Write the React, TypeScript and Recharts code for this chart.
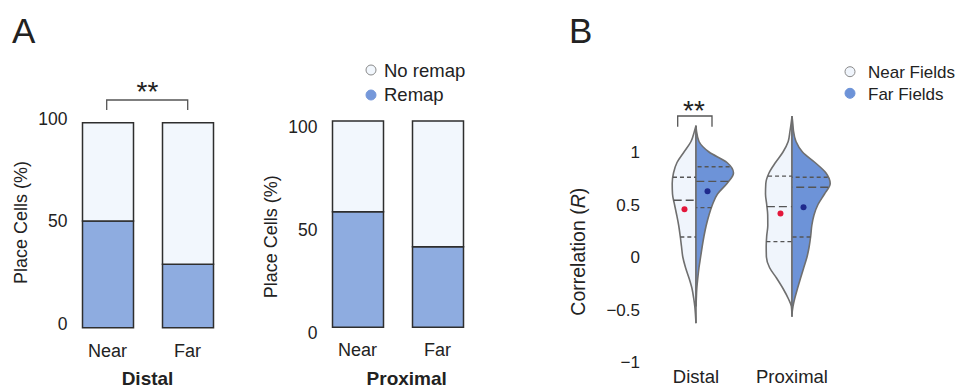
import { BarChart, Bar, XAxis, YAxis, ComposedChart, Area, ReferenceLine, ReferenceDot, Legend } from 'recharts';

const FONT = '"Liberation Sans", Arial, Helvetica, sans-serif';
const INK = '#222';
const REMAP = '#8eace0';
const NO_REMAP = '#f2f7fd';
const BAR_EDGE = '#2e2e2e';
const NEAR_FILL = '#f0f5fc';
const FAR_FILL = '#6d93d8';
const OUTLINE = '#6f6f6f';
const NEAR_DOT = '#e3173b';
const FAR_DOT = '#1f2a8c';

// ---- panel A: remapping share (%)
const conditions = ['Near', 'Far'];
const distalRemap = [52, 31];
const distalNoRemap = [48, 69];
const proximalRemap = [56, 39];
const proximalNoRemap = [44, 61];
const percentTicks = [0, 50, 100];
const remapLegend = ['No remap', 'Remap'];

// ---- panel B: split violins of correlation R
const groups = ['Distal', 'Proximal'];
const fieldLegend = ['Near Fields', 'Far Fields'];
const rTicks = [-1, -0.5, 0, 0.5, 1];
const rGrid = [1.34, 1.3, 1.25, 1.2, 1.1, 1.0, 0.9, 0.8, 0.7, 0.6, 0.5, 0.4, 0.3, 0.2, 0.1, 0, -0.1, -0.2, -0.3, -0.4, -0.47, -0.54, -0.57, -0.63];
// density (half width)
const distalNear = [null, null, 0, 1.5, 5, 12, 19, 22.5, 23.8, 23.5, 21.5, 19.3, 17.3, 15.8, 14.5, 13.2, 10.5, 7, 4, 2.2, 1.2, 0.6, 0.4, 0];
const distalFar = [null, null, 0, 0.5, 3, 13, 31, 37.5, 31, 21.5, 16.5, 13, 10.2, 8, 6.2, 4.6, 3, 1.8, 0.8, 0.3, 0, null, null, null];
const proximalNear = [0, 0.5, 1.2, 2, 3.8, 9, 16.5, 23, 26.2, 26.5, 25.3, 24.3, 24.2, 25.3, 25.8, 25.6, 22.5, 15.5, 9, 3.5, 0.6, 0.1, 0, null];
const proximalFar = [0, 0.5, 1, 1.5, 4, 10.5, 23, 34, 38.2, 32.5, 26, 22, 19.8, 18.7, 17.2, 15, 11.8, 8.6, 5.5, 2.6, 1.0, 0, null, null];
// [Q1, median, Q3]
const distalNearQ = [0.19, 0.54, 0.76];
const distalFarQ = [0.47, 0.72, 0.86];
const proximalNearQ = [0.146, 0.48, 0.77];
const proximalFarQ = [0.19, 0.665, 0.76];
const distalMeans = [0.454, 0.626];
const proximalMeans = [0.415, 0.473];

const DENSITY_TO_X = 1 / 96;
const DOT_OFFSET = 0.12;

const distalBars = conditions.map((name, i) => ({ name, remap: distalRemap[i], noRemap: distalNoRemap[i] }));
const proximalBars = conditions.map((name, i) => ({ name, remap: proximalRemap[i], noRemap: proximalNoRemap[i] }));

const halves = [
  { key: 'dNear', pos: 1, side: -1, widths: distalNear, q: distalNearQ, mean: distalMeans[0] },
  { key: 'dFar', pos: 1, side: 1, widths: distalFar, q: distalFarQ, mean: distalMeans[1] },
  { key: 'pNear', pos: 2, side: -1, widths: proximalNear, q: proximalNearQ, mean: proximalMeans[0] },
  { key: 'pFar', pos: 2, side: 1, widths: proximalFar, q: proximalFarQ, mean: proximalMeans[1] },
];

const span = (pos: number, side: number, w: number | null) => {
  if (w == null) return [null, null];
  const edge = pos + side * w * DENSITY_TO_X;
  return side < 0 ? [edge, pos] : [pos, edge];
};

const violinData = rGrid.map((r, i) => {
  const row: any = { r };
  halves.forEach((h) => (row[h.key] = span(h.pos, h.side, h.widths[i])));
  return row;
});

// half width at a given R, for the quartile dashes
const widthAt = (widths: (number | null)[], q: number) => {
  for (let i = 0; i < rGrid.length - 1; i++) {
    const a = widths[i];
    const b = widths[i + 1];
    if (a == null || b == null) continue;
    if (rGrid[i] >= q && q >= rGrid[i + 1]) {
      const t = (rGrid[i] - q) / (rGrid[i] - rGrid[i + 1]);
      return a + (b - a) * t;
    }
  }
  return 0;
};

const fmtR = (v: number) => (v < 0 ? '\u2212' + Math.abs(v) : String(v));

function PercentTick({ x, y, payload, shift }: any) {
  return (
    <text x={x} y={y + shift} dy="0.355em" textAnchor="end" fontSize={17.5} fill={INK} fontFamily={FONT}>
      {payload.value}
    </text>
  );
}

function LegendDots({ labels, fills, cx, rows, textX, baselines, fontSize, width, height }: any) {
  return (
    <svg width={width} height={height} style={{ display: 'block' }}>
      {labels.map((l: string, i: number) => (
        <g key={l}>
          <circle cx={cx} cy={rows[i]} r={5} fill={fills[i]} stroke={i === 0 ? '#8a8a8a' : fills[i]} strokeWidth={1} />
          <text x={textX} y={baselines[i]} fontSize={fontSize} fill={INK} fontFamily={FONT}>
            {l}
          </text>
        </g>
      ))}
    </svg>
  );
}

function StackedPanel({ data, top, xHeight, shift, legend }: any) {
  return (
    <BarChart width={250} height={389} data={data} margin={{ top, right: 22.5, left: 0, bottom: 0 }}>
      <XAxis
        dataKey="name"
        axisLine={false}
        tickLine={false}
        tickSize={0}
        tickMargin={16.4}
        height={xHeight}
        interval={0}
        tick={{ fontSize: 18, fill: INK, fontFamily: FONT }}
      />
      <YAxis
        type="number"
        domain={[0, 100]}
        ticks={percentTicks}
        interval={0}
        axisLine={false}
        tickLine={false}
        tickSize={0}
        tickMargin={0}
        width={67.5}
        tick={(p: any) => <PercentTick {...p} shift={shift} />}
      />
      <Bar dataKey="remap" name="Remap" stackId="s" fill={REMAP} stroke={BAR_EDGE} strokeWidth={1.5} barSize={51} isAnimationActive={false} />
      <Bar dataKey="noRemap" name="No remap" stackId="s" fill={NO_REMAP} stroke={BAR_EDGE} strokeWidth={1.5} barSize={51} isAnimationActive={false} />
      {legend && (
        <Legend
          layout="horizontal"
          verticalAlign="middle"
          align="center"
          wrapperStyle={{ left: 110, top: 55, width: 125, height: 55 }}
          content={() => (
            <LegendDots
              labels={remapLegend}
              fills={[NO_REMAP, '#7598da']}
              cx={11}
              rows={[15, 40]}
              textX={24}
              baselines={[21.7, 46]}
              fontSize={18.5}
              width={125}
              height={55}
            />
          )}
        />
      )}
    </BarChart>
  );
}

function ViolinPanel() {
  return (
    <ComposedChart layout="vertical" width={409} height={389} data={violinData} margin={{ top: 110, right: 129, left: 0, bottom: 0 }}>
      <XAxis
        type="number"
        domain={[0.5, 2.5]}
        allowDataOverflow
        ticks={[1, 2]}
        interval={0}
        tickFormatter={(v: number) => groups[v - 1]}
        axisLine={false}
        tickLine={false}
        tickSize={0}
        tickMargin={8.2}
        height={27}
        tick={{ fontSize: 18.5, fill: INK, fontFamily: FONT }}
      />
      <YAxis
        type="number"
        dataKey="r"
        domain={[-1, 1.4]}
        allowDataOverflow
        reversed
        ticks={rTicks}
        interval={0}
        tickFormatter={fmtR}
        axisLine={false}
        tickLine={false}
        tickSize={0}
        tickMargin={8}
        width={88}
        tick={{ fontSize: 17, fill: INK, fontFamily: FONT }}
      />
      {halves.map((h) => (
        <Area
          key={h.key}
          dataKey={h.key}
          type="monotone"
          fill={h.side < 0 ? NEAR_FILL : FAR_FILL}
          fillOpacity={1}
          stroke={OUTLINE}
          strokeWidth={1.6}
          dot={false}
          activeDot={false}
          isAnimationActive={false}
        />
      ))}
      {halves.map((h) =>
        h.q.map((q, qi) => {
          const edge = h.pos + h.side * widthAt(h.widths, q) * DENSITY_TO_X;
          return (
            <ReferenceLine
              key={h.key + qi}
              segment={[{ x: edge, y: q }, { x: h.pos, y: q }]}
              stroke="#555"
              strokeWidth={1.4}
              strokeDasharray={qi === 1 ? '8 4' : '4 3'}
            />
          );
        })
      )}
      {halves.map((h) => (
        <ReferenceDot
          key={h.key + 'm'}
          x={h.pos + h.side * DOT_OFFSET}
          y={h.mean}
          r={3}
          fill={h.side < 0 ? NEAR_DOT : FAR_DOT}
          stroke="none"
        />
      ))}
      <Legend
        layout="horizontal"
        verticalAlign="middle"
        align="center"
        wrapperStyle={{ left: 278, top: 55, width: 131, height: 55 }}
        content={() => (
          <LegendDots
            labels={fieldLegend}
            fills={[NEAR_FILL, FAR_FILL]}
            cx={12}
            rows={[16.7, 38.3]}
            textX={30}
            baselines={[23.3, 45]}
            fontSize={17}
            width={131}
            height={55}
          />
        )}
      />
    </ComposedChart>
  );
}

export default function App() {
  return (
    <div style={{ position: 'absolute', left: 0, top: 0, width: 969, height: 389, background: '#fff', fontFamily: FONT }}>
      <div style={{ position: 'absolute', left: 0, top: 0 }}>
        <StackedPanel data={distalBars} top={122.7} xHeight={61.3} shift={-4.4} />
      </div>
      <div style={{ position: 'absolute', left: 250, top: 0 }}>
        <StackedPanel data={proximalBars} top={121} xHeight={61.7} shift={5.8} legend />
      </div>
      <div style={{ position: 'absolute', left: 560, top: 0 }}>
        <ViolinPanel />
      </div>
      <svg width={969} height={389} style={{ position: 'absolute', left: 0, top: 0, pointerEvents: 'none' }} fontFamily={FONT} fill={INK}>
        <text x={12} y={43} fontSize={35}>A</text>
        <text x={569} y={43} fontSize={35}>B</text>
        <path d="M106.7 110 V100 H187.7 V110" fill="none" stroke="#555" strokeWidth={1.3} />
        <text x={147.5} y={101} textAnchor="middle" fontSize={28}>**</text>
        <path d="M677.7 126.7 V116 H712 V126.7" fill="none" stroke="#555" strokeWidth={1.3} />
        <text x={694} y={119.5} textAnchor="middle" fontSize={28}>**</text>
        <text transform="translate(26.5,222.5) rotate(-90)" textAnchor="middle" fontSize={18}>Place Cells (%)</text>
        <text transform="translate(276.5,236.7) rotate(-90)" textAnchor="middle" fontSize={18}>Place Cells (%)</text>
        <text transform="translate(585,251.7) rotate(-90)" textAnchor="middle" fontSize={19.5}>
          Correlation (<tspan fontStyle="italic">R</tspan>)
        </text>
        <text x={147.5} y={384.5} textAnchor="middle" fontSize={19} fontWeight="bold">Distal</text>
        <text x={406.7} y={384.5} textAnchor="middle" fontSize={19} fontWeight="bold">Proximal</text>
      </svg>
    </div>
  );
}
